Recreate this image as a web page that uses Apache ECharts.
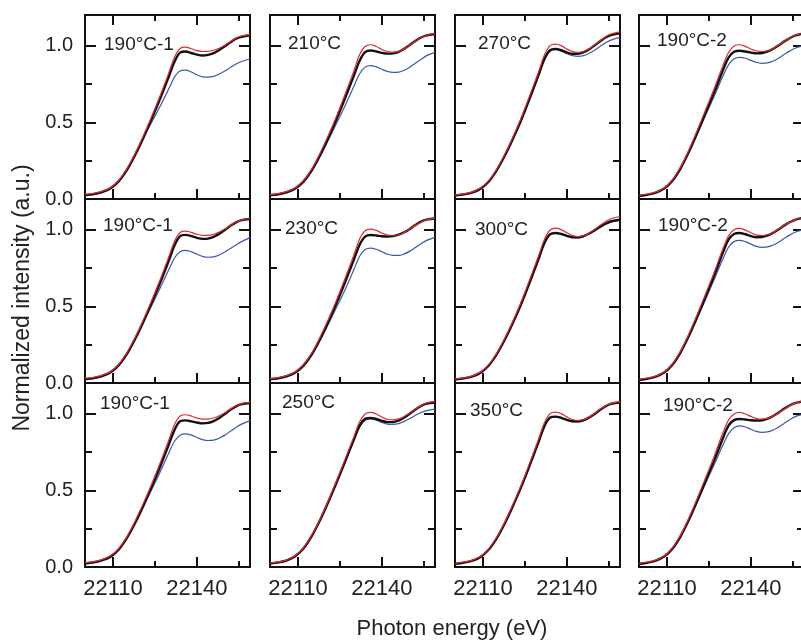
<!DOCTYPE html>
<html><head><meta charset="utf-8">
<script src="https://cdn.jsdelivr.net/npm/echarts@6/dist/echarts.min.js"></script>
<style>html,body{margin:0;padding:0;background:#fff}#c{width:801px;height:644px}</style>
</head><body><div id="c"></div>
<script>
// ---------- DATA ----------
const energy = [22100,22103,22106,22109,22112,22115,22118,22121,22124,22127,22130,22132,22134,22136,22138,22140,22142,22144,22146,22148,22150,22152,22154,22156,22159];
const xMajorTicks = [22110, 22140];
const xMinorTicks = [22125, 22155];
const yMajorTicks = [0, 0.5, 1.0];
const yMinorTicks = [0.25, 0.75];
const panelLabels = [
  ['190\u00b0C-1', '210\u00b0C', '270\u00b0C', '190\u00b0C-2'],
  ['190\u00b0C-1', '230\u00b0C', '300\u00b0C', '190\u00b0C-2'],
  ['190\u00b0C-1', '250\u00b0C', '350\u00b0C', '190\u00b0C-2']
];
const xTitle = 'Photon energy (eV)';
const yTitle = 'Normalized intensity (a.u.)';

// row 1
const black_r1c1 = [0.025,0.032,0.045,0.068,0.115,0.19,0.29,0.405,0.53,0.66,0.80,0.895,0.955,0.962,0.952,0.942,0.936,0.94,0.952,0.972,0.996,1.022,1.045,1.058,1.068];
const red_r1c1   = [0.03,0.037,0.05,0.073,0.12,0.197,0.30,0.418,0.545,0.68,0.825,0.925,0.982,0.99,0.98,0.968,0.962,0.963,0.97,0.983,1.003,1.027,1.05,1.063,1.072];
const blue_r1c1  = [0.02,0.028,0.042,0.066,0.113,0.19,0.29,0.40,0.505,0.61,0.72,0.795,0.835,0.84,0.828,0.81,0.797,0.795,0.8,0.815,0.835,0.858,0.88,0.897,0.913];

const black_r1c2 = [0.025,0.032,0.045,0.068,0.115,0.19,0.29,0.405,0.53,0.665,0.805,0.9,0.958,0.968,0.962,0.953,0.948,0.95,0.96,0.98,1.005,1.03,1.053,1.067,1.076];
const red_r1c2   = [0.028,0.035,0.048,0.072,0.12,0.197,0.302,0.42,0.55,0.69,0.835,0.94,0.995,1.006,0.995,0.975,0.962,0.958,0.963,0.98,1.004,1.03,1.053,1.068,1.078];
const blue_r1c2  = [0.02,0.027,0.04,0.063,0.108,0.182,0.28,0.39,0.5,0.615,0.735,0.815,0.86,0.87,0.862,0.846,0.832,0.826,0.828,0.84,0.86,0.886,0.91,0.935,0.956];

const black_r1c3 = [0.022,0.03,0.042,0.066,0.113,0.19,0.29,0.405,0.53,0.67,0.815,0.915,0.97,0.978,0.97,0.956,0.947,0.947,0.957,0.977,1.003,1.03,1.055,1.07,1.08];
const red_r1c3   = [0.025,0.033,0.045,0.07,0.118,0.196,0.298,0.415,0.545,0.688,0.835,0.94,1.0,1.01,1.0,0.978,0.962,0.957,0.963,0.98,1.006,1.034,1.06,1.078,1.09];
const blue_r1c3  = [0.02,0.028,0.04,0.064,0.111,0.188,0.288,0.403,0.528,0.668,0.812,0.91,0.965,0.975,0.965,0.948,0.935,0.93,0.935,0.95,0.972,0.997,1.02,1.038,1.054];

const black_r1c4 = [0.02,0.028,0.042,0.068,0.12,0.205,0.315,0.44,0.57,0.7,0.84,0.922,0.96,0.967,0.962,0.955,0.95,0.952,0.962,0.98,1.003,1.028,1.05,1.067,1.08];
const red_r1c4   = [0.023,0.031,0.045,0.072,0.125,0.212,0.325,0.455,0.59,0.725,0.87,0.955,0.998,1.006,0.995,0.978,0.965,0.962,0.967,0.982,1.004,1.028,1.05,1.068,1.082];
const blue_r1c4  = [0.018,0.026,0.04,0.066,0.117,0.2,0.308,0.43,0.555,0.675,0.8,0.875,0.914,0.924,0.918,0.904,0.89,0.885,0.888,0.9,0.92,0.944,0.966,0.985,1.0];

// row 2
const black_r2c1 = [0.025,0.032,0.045,0.068,0.115,0.19,0.29,0.405,0.53,0.66,0.80,0.897,0.958,0.966,0.958,0.947,0.94,0.942,0.953,0.973,0.998,1.025,1.048,1.062,1.07];
const red_r2c1   = [0.03,0.037,0.05,0.073,0.12,0.197,0.30,0.418,0.545,0.68,0.825,0.925,0.982,0.99,0.982,0.97,0.963,0.963,0.97,0.984,1.004,1.028,1.05,1.064,1.073];
const blue_r2c1  = [0.02,0.028,0.042,0.066,0.113,0.19,0.29,0.40,0.51,0.625,0.74,0.815,0.856,0.865,0.856,0.84,0.826,0.82,0.823,0.835,0.854,0.877,0.9,0.922,0.948];

const black_r2c2 = [0.025,0.032,0.045,0.068,0.115,0.19,0.29,0.405,0.53,0.665,0.805,0.9,0.955,0.965,0.962,0.957,0.955,0.958,0.967,0.983,1.005,1.03,1.052,1.065,1.073];
const red_r2c2   = [0.028,0.035,0.048,0.072,0.12,0.197,0.302,0.42,0.55,0.69,0.835,0.938,0.993,1.004,0.995,0.978,0.965,0.962,0.967,0.982,1.004,1.028,1.05,1.065,1.075];
const blue_r2c2  = [0.02,0.027,0.04,0.063,0.108,0.182,0.28,0.39,0.5,0.615,0.74,0.825,0.87,0.88,0.872,0.856,0.84,0.832,0.832,0.842,0.86,0.884,0.908,0.93,0.95];

const black_r2c3 = [0.022,0.03,0.042,0.066,0.113,0.19,0.29,0.405,0.53,0.67,0.815,0.915,0.97,0.978,0.972,0.96,0.951,0.95,0.958,0.975,0.997,1.02,1.04,1.055,1.065];
const red_r2c3   = [0.025,0.033,0.045,0.07,0.118,0.196,0.298,0.415,0.545,0.688,0.835,0.938,0.998,1.01,1.0,0.98,0.962,0.955,0.96,0.978,1.003,1.03,1.055,1.073,1.086];
const blue_r2c3  = [0.021,0.029,0.041,0.065,0.112,0.189,0.289,0.404,0.529,0.669,0.813,0.912,0.967,0.975,0.969,0.957,0.948,0.947,0.955,0.972,0.994,1.017,1.037,1.052,1.062];

const black_r2c4 = [0.02,0.028,0.042,0.068,0.12,0.205,0.315,0.44,0.57,0.705,0.85,0.935,0.972,0.978,0.97,0.958,0.951,0.952,0.962,0.98,1.003,1.028,1.05,1.066,1.078];
const red_r2c4   = [0.023,0.031,0.045,0.072,0.125,0.212,0.325,0.455,0.59,0.728,0.875,0.96,1.0,1.008,0.997,0.98,0.966,0.962,0.967,0.982,1.004,1.028,1.05,1.067,1.08];
const blue_r2c4  = [0.018,0.026,0.04,0.066,0.117,0.2,0.308,0.43,0.555,0.68,0.808,0.885,0.922,0.93,0.922,0.906,0.891,0.885,0.888,0.9,0.92,0.944,0.966,0.985,1.0];

// row 3
const black_r3c1 = [0.022,0.03,0.043,0.066,0.113,0.19,0.29,0.405,0.53,0.66,0.80,0.893,0.95,0.956,0.95,0.942,0.937,0.94,0.952,0.972,0.998,1.025,1.048,1.062,1.07];
const red_r3c1   = [0.028,0.035,0.048,0.072,0.12,0.198,0.302,0.42,0.548,0.685,0.83,0.93,0.985,0.993,0.985,0.972,0.965,0.965,0.972,0.986,1.006,1.03,1.052,1.066,1.074];
const blue_r3c1  = [0.02,0.028,0.042,0.066,0.113,0.19,0.29,0.40,0.51,0.625,0.745,0.82,0.86,0.868,0.86,0.845,0.831,0.825,0.828,0.84,0.86,0.885,0.91,0.932,0.955];

const black_r3c2 = [0.022,0.03,0.043,0.07,0.122,0.205,0.31,0.43,0.56,0.695,0.832,0.92,0.966,0.972,0.965,0.953,0.945,0.945,0.955,0.975,1.0,1.027,1.05,1.065,1.073];
const red_r3c2   = [0.025,0.033,0.046,0.073,0.126,0.21,0.317,0.44,0.572,0.71,0.85,0.945,0.998,1.008,0.998,0.978,0.962,0.96,0.966,0.982,1.005,1.03,1.054,1.07,1.08];
const blue_r3c2  = [0.02,0.028,0.041,0.068,0.12,0.203,0.308,0.428,0.557,0.69,0.826,0.912,0.957,0.966,0.958,0.943,0.932,0.93,0.935,0.95,0.968,0.99,1.008,1.02,1.03];

const black_r3c3 = [0.02,0.028,0.04,0.064,0.112,0.19,0.292,0.41,0.537,0.677,0.822,0.92,0.975,0.981,0.973,0.96,0.951,0.95,0.958,0.976,1.0,1.027,1.05,1.065,1.073];
const red_r3c3   = [0.023,0.031,0.043,0.068,0.117,0.196,0.3,0.42,0.55,0.692,0.84,0.942,1.0,1.01,1.0,0.979,0.962,0.956,0.962,0.979,1.003,1.03,1.054,1.069,1.078];
const blue_r3c3  = [0.019,0.027,0.039,0.063,0.111,0.189,0.291,0.409,0.535,0.675,0.82,0.917,0.972,0.978,0.97,0.957,0.948,0.947,0.955,0.973,0.997,1.024,1.047,1.062,1.07];

const black_r3c4 = [0.02,0.028,0.042,0.068,0.12,0.205,0.315,0.44,0.57,0.7,0.84,0.922,0.958,0.965,0.962,0.957,0.955,0.957,0.967,0.985,1.008,1.033,1.055,1.07,1.082];
const red_r3c4   = [0.023,0.031,0.045,0.072,0.125,0.212,0.325,0.455,0.59,0.728,0.875,0.958,0.998,1.008,0.998,0.982,0.968,0.964,0.969,0.984,1.006,1.03,1.053,1.07,1.083];
const blue_r3c4  = [0.018,0.026,0.04,0.066,0.117,0.2,0.308,0.43,0.553,0.672,0.795,0.868,0.908,0.92,0.913,0.898,0.884,0.878,0.881,0.893,0.913,0.938,0.962,0.982,0.997];

const panelData = [
  [[black_r1c1, red_r1c1, blue_r1c1], [black_r1c2, red_r1c2, blue_r1c2], [black_r1c3, red_r1c3, blue_r1c3], [black_r1c4, red_r1c4, blue_r1c4]],
  [[black_r2c1, red_r2c1, blue_r2c1], [black_r2c2, red_r2c2, blue_r2c2], [black_r2c3, red_r2c3, blue_r2c3], [black_r2c4, red_r2c4, blue_r2c4]],
  [[black_r3c1, red_r3c1, blue_r3c1], [black_r3c2, red_r3c2, blue_r3c2], [black_r3c3, red_r3c3, blue_r3c3], [black_r3c4, red_r3c4, blue_r3c4]]
];

// ---------- LAYOUT / STYLE ----------
const FONT = '"Liberation Sans", Arial, Helvetica, sans-serif';
const TXT = '#222';
const AX = '#111';
const colLeft = [85, 270, 455, 639];
const rowTop = [15, 199, 383];
const W = 165, H = 184;
const labelPos = [
  [[104, 44.5], [288, 43.5], [478, 43.5], [657, 41]],
  [[103, 226], [285, 228.5], [475, 229.5], [658, 226]],
  [[100, 403.5], [282, 403], [470, 410.5], [663, 406]]
];
const X_MIN = 22100, X_MAX = 22159, Y_MIN = 0, Y_MAX = 1.2;

const grid = [], xAxis = [], yAxis = [], series = [], graphic = [];
const lineSt = {color: AX, width: 2};

function pairs(vals) { return energy.map((e, i) => [e, vals[i]]); }

for (let r = 0; r < 3; r++) {
  for (let c = 0; c < 4; c++) {
    const g = grid.length;
    grid.push({left: colLeft[c], top: rowTop[r], width: W, height: H, containLabel: false, outerBoundsMode: 'none'});
    const bx = {type: 'value', gridIndex: g, min: X_MIN, max: X_MAX, splitLine: {show: false}};
    const xi = xAxis.length;
    // bottom major
    xAxis.push(Object.assign({}, bx, {position: 'bottom',
      axisLine: {show: true, onZero: false, lineStyle: lineSt},
      axisTick: {show: true, inside: true, length: 10, customValues: xMajorTicks, lineStyle: lineSt},
      axisLabel: {show: r === 2, customValues: xMajorTicks, margin: 11, color: TXT, fontSize: 22, fontFamily: FONT,
        formatter: v => String(Math.round(v))}}));
    // bottom minor
    xAxis.push(Object.assign({}, bx, {position: 'bottom',
      axisLine: {show: false, onZero: false},
      axisTick: {show: true, inside: true, length: 6, customValues: xMinorTicks, lineStyle: lineSt},
      axisLabel: {show: false}}));
    // top major
    xAxis.push(Object.assign({}, bx, {position: 'top',
      axisLine: {show: true, onZero: false, lineStyle: lineSt},
      axisTick: {show: r === 0, inside: true, length: 10, customValues: xMajorTicks, lineStyle: lineSt},
      axisLabel: {show: false}}));
    // top minor
    xAxis.push(Object.assign({}, bx, {position: 'top',
      axisLine: {show: false, onZero: false},
      axisTick: {show: r === 0, inside: true, length: 6, customValues: xMinorTicks, lineStyle: lineSt},
      axisLabel: {show: false}}));

    const by = {type: 'value', gridIndex: g, min: Y_MIN, max: Y_MAX, splitLine: {show: false}};
    const yi = yAxis.length;
    yAxis.push(Object.assign({}, by, {position: 'left',
      axisLine: {show: true, onZero: false, lineStyle: lineSt},
      axisTick: {show: true, inside: true, length: 11, customValues: yMajorTicks, lineStyle: lineSt},
      axisLabel: {show: c === 0, customValues: yMajorTicks, margin: 12, color: TXT, fontSize: 20, fontFamily: FONT,
        formatter: v => Number(v).toFixed(1)}}));
    yAxis.push(Object.assign({}, by, {position: 'left',
      axisLine: {show: false, onZero: false},
      axisTick: {show: true, inside: true, length: 7, customValues: yMinorTicks, lineStyle: lineSt},
      axisLabel: {show: false}}));
    yAxis.push(Object.assign({}, by, {position: 'right',
      axisLine: {show: true, onZero: false, lineStyle: lineSt},
      axisTick: {show: true, inside: true, length: 11, customValues: yMajorTicks, lineStyle: lineSt},
      axisLabel: {show: false}}));
    yAxis.push(Object.assign({}, by, {position: 'right',
      axisLine: {show: false, onZero: false},
      axisTick: {show: true, inside: true, length: 7, customValues: yMinorTicks, lineStyle: lineSt},
      axisLabel: {show: false}}));

    const [bk, rd, bl] = panelData[r][c];
    const common = {type: 'line', xAxisIndex: xi, yAxisIndex: yi, showSymbol: false, symbol: 'none', smooth: 0.35, clip: true, silent: true, animation: false};
    series.push(Object.assign({}, common, {name: 'blue', data: pairs(bl), lineStyle: {color: '#3d58a8', width: 1.2}, z: 2}));
    series.push(Object.assign({}, common, {name: 'black', data: pairs(bk), lineStyle: {color: '#111111', width: 2.4}, z: 3}));
    series.push(Object.assign({}, common, {name: 'red', data: pairs(rd), lineStyle: {color: '#e0282e', width: 1.2}, z: 4}));

    graphic.push({type: 'text', x: labelPos[r][c][0], y: labelPos[r][c][1], z: 100,
      style: {text: panelLabels[r][c], fill: TXT, font: '19px ' + FONT, textVerticalAlign: 'middle', verticalAlign: 'middle'}});
  }
}

graphic.push({type: 'text', x: 452, y: 629, z: 100,
  style: {text: xTitle, fill: TXT, font: '22px ' + FONT, align: 'center', textAlign: 'center', verticalAlign: 'middle', textVerticalAlign: 'middle'}});
graphic.push({type: 'text', x: 23, y: 298, rotation: Math.PI / 2, z: 100,
  style: {text: yTitle, fill: TXT, font: '23px ' + FONT, align: 'center', textAlign: 'center', verticalAlign: 'middle', textVerticalAlign: 'middle'}});

const chart = echarts.init(document.getElementById('c'), null, {renderer: 'canvas'});
chart.setOption({animation: false, backgroundColor: '#fff', grid, xAxis, yAxis, series, graphic});
</script>
</body></html>
